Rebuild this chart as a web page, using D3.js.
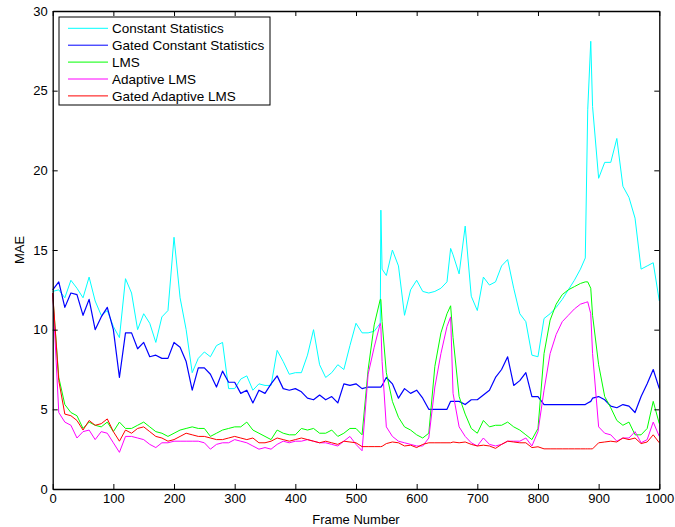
<!DOCTYPE html>
<html>
<head>
<meta charset="utf-8">
<script src="https://cdn.jsdelivr.net/npm/d3@7"></script>
<style>
    body { margin: 0; background: #fff; }
    #chart-area text { font-family: "Liberation Sans", Arial, Helvetica, sans-serif; }
</style>
</head>
<body>
<div id="chart-area"></div>
<script>

// frame numbers the values were read at (a few extra near the jumps)
var frames = [
    0, 10, 20, 30, 40, 50, 60, 70, 80, 90,
    100, 110, 120, 130, 140, 150, 160, 170, 180, 190,
    200, 210, 220, 230, 240, 250, 260, 270, 280, 290,
    300, 310, 320, 330, 340, 350, 360, 370, 380, 390,
    400, 410, 420, 430, 440, 450, 460, 470, 480, 490,
    500, 510, 520, 530, 540, 541, 543,
    550, 560, 570, 580, 590, 600, 610, 620, 630, 640, 650, 656,
    660, 670, 680, 690, 700, 710, 720, 730, 740, 750,
    760, 770, 780, 790, 800, 810, 820, 830, 840, 850, 860, 870,
    878, 882, 887,
    890, 900, 910, 920, 930, 940, 950, 960, 970, 980, 990, 1000
];

var constantStats = [
    12.4, 12.5, 12.0, 13.1, 12.6, 12.0, 13.3, 11.8, 10.9, 11.2,
    10.2, 9.5, 13.2, 12.3, 10.0, 11.0, 10.4, 9.2, 10.8, 11.2,
    15.8, 12.0, 10.0, 7.3, 8.2, 8.6, 8.3, 9.0, 9.2, 6.3,
    6.3, 6.9, 7.1, 6.2, 6.6, 6.5, 6.5, 8.7, 8.0, 7.2,
    7.3, 7.3, 8.4, 10.0, 7.8, 7.0, 7.3, 7.8, 7.5, 9.0,
    10.4, 9.8, 9.8, 9.9, 10.4, 17.5, 13.8,
    13.4, 15.0, 14.0, 10.9, 12.5, 13.1, 12.4, 12.3, 12.4, 12.6, 13.0, 15.1,
    14.7, 13.5, 16.5, 12.1, 11.2, 13.3, 12.8, 13.0, 14.0, 14.4,
    12.6, 11.0, 10.5, 8.4, 8.3, 10.7, 11.0, 11.4, 11.9, 12.5, 13.1, 13.8,
    14.5, 23.8, 28.1,
    24.0, 19.5, 20.5, 20.5, 22.0, 19.0, 18.3, 17.0, 13.8, 14.0, 14.2, 11.8
];

var gatedConstantStats = [
    12.5, 13.0, 11.4, 12.3, 12.2, 10.9, 11.9, 10.0, 10.8, 11.4,
    10.0, 7.0, 9.8, 9.8, 8.8, 9.2, 8.3, 8.4, 8.2, 8.2,
    9.2, 8.9, 8.0, 6.2, 7.6, 7.6, 7.2, 6.4, 7.4, 6.7,
    6.7, 6.0, 6.2, 5.4, 6.2, 6.0, 6.6, 7.1, 6.3, 6.2,
    6.3, 6.1, 5.7, 5.6, 5.9, 5.6, 5.8, 5.4, 6.6, 6.5,
    6.6, 6.3, 6.4, 6.4, 6.4, 6.4, 6.5,
    7.0, 6.6, 5.7, 6.3, 6.0, 6.2, 5.7, 5.0, 5.0, 5.0, 5.0, 5.5,
    5.5, 5.5, 5.3, 5.6, 5.6, 5.9, 6.2, 7.0, 7.5, 8.3,
    6.5, 6.8, 7.3, 5.8, 5.8, 5.3, 5.3, 5.3, 5.3, 5.3, 5.3, 5.3,
    5.3, 5.4, 5.5,
    5.7, 5.8, 5.6, 5.2, 5.1, 5.3, 5.2, 4.8, 5.8, 6.6, 7.5, 6.3
];

var lms = [
    12.2, 7.0, 5.3, 4.8, 4.6, 3.8, 4.2, 4.0, 3.9, 4.2,
    3.6, 4.2, 3.8, 3.8, 4.0, 4.2, 3.9, 3.6, 3.5, 3.3,
    3.5, 3.7, 3.8, 3.9, 3.8, 3.8, 3.3, 3.5, 3.7, 3.8,
    3.9, 3.9, 4.2, 3.7, 3.5, 3.3, 3.1, 3.7, 3.5, 3.4,
    3.4, 3.8, 3.7, 3.8, 3.5, 3.5, 3.7, 3.3, 3.5, 3.8,
    3.8, 3.4, 7.5, 10.3, 11.9, 11.9, 10.5,
    7.3, 5.5, 4.5, 3.9, 3.7, 3.4, 3.2, 3.5, 7.7, 9.8, 11.0, 11.5,
    9.5, 5.8, 4.7, 3.8, 3.5, 4.3, 3.9, 4.0, 4.0, 4.2,
    3.9, 3.7, 3.4, 3.1, 3.8, 8.5, 10.6, 11.6, 12.2, 12.5, 12.7, 12.9,
    13.0, 13.0, 12.6,
    10.9, 7.8, 5.8, 5.1, 4.3, 4.0, 4.2, 3.4, 3.4, 3.8, 5.5, 4.1
];

var adaptiveLms = [
    12.3, 4.8, 4.2, 4.0, 3.2, 3.6, 3.7, 3.1, 3.6, 3.5,
    2.9, 2.3, 3.3, 3.3, 3.2, 3.1, 2.8, 2.6, 2.9, 2.9,
    3.0, 3.0, 3.0, 3.0, 3.0, 2.9, 2.5, 2.8, 2.9, 2.9,
    3.1, 3.0, 2.9, 2.7, 2.5, 2.6, 2.5, 2.8, 3.0, 2.9,
    3.0, 3.0, 3.1, 3.0, 2.9, 2.9, 2.8, 2.7, 3.0, 3.3,
    2.8, 2.4, 7.2, 8.9, 10.4, 10.2, 8.0,
    3.9, 3.3, 3.0, 2.9, 2.8, 2.7, 2.7, 3.2, 6.4, 8.5, 10.2, 10.8,
    6.0, 3.9, 3.3, 2.9, 2.7, 3.2, 2.8, 2.7, 2.8, 3.0,
    3.0, 3.0, 3.2, 2.7, 3.6, 6.2, 8.5, 9.7, 10.5, 10.9, 11.3, 11.6,
    11.7, 11.75, 11.0,
    8.5, 3.9, 3.5, 3.4, 3.0, 3.2, 3.2, 3.6, 2.9, 3.1, 4.2, 3.3
];

var gatedAdaptiveLms = [
    12.3, 6.8, 4.7, 4.6, 4.3, 3.7, 4.3, 4.0, 4.1, 4.4,
    3.6, 3.0, 3.7, 3.5, 3.8, 3.9, 3.6, 3.3, 3.2, 3.0,
    3.1, 3.3, 3.5, 3.4, 3.3, 3.3, 3.2, 3.1, 3.1, 3.2,
    3.3, 3.2, 3.1, 3.2, 2.9, 2.9, 3.0, 3.2, 3.1, 3.0,
    3.1, 3.2, 3.1, 3.0, 2.9, 3.0, 2.9, 2.8, 3.0, 2.95,
    2.9, 2.66, 2.66, 2.66, 2.66, 2.66, 2.68,
    2.85, 2.95, 2.9, 2.7, 2.75, 2.6, 2.8, 2.9, 2.9, 2.9, 2.9, 2.9,
    2.95, 2.9, 2.95, 2.8, 2.7, 2.75, 2.7, 2.55, 2.8, 3.0,
    2.95, 2.9, 2.9, 2.6, 2.65, 2.52, 2.52, 2.52, 2.52, 2.52, 2.52, 2.52,
    2.52, 2.52, 2.52,
    2.52, 2.9, 2.95, 3.0, 2.95, 3.2, 3.1, 3.2, 2.85, 2.95, 3.4, 2.9
];

var seriesNames = ["Constant Statistics", "Gated Constant Statistics", "LMS", "Adaptive LMS", "Gated Adaptive LMS"];
var seriesColors = ["#00ffff", "#0000ff", "#00ff00", "#ff00ff", "#ff0000"];
var seriesValues = [constantStats, gatedConstantStats, lms, adaptiveLms, gatedAdaptiveLms];

var xTicks = [0, 100, 200, 300, 400, 500, 600, 700, 800, 900, 1000];
var yTicks = [0, 5, 10, 15, 20, 25, 30];


/*
 *  MaeChart - draws the MAE per frame for every method
 */

MaeChart = function(_parentElement, _series) {
    this.parentElement = _parentElement;
    this.series = _series;

    this.initVis();
}

MaeChart.prototype.initVis = function() {
    var vis = this;

    vis.margin = { top: 11, right: 15.7, bottom: 38, left: 52.7 };
    vis.width = 675 - vis.margin.left - vis.margin.right;
    vis.height = 527 - vis.margin.top - vis.margin.bottom;

    vis.svgRoot = d3.select("#" + vis.parentElement).append("svg")
        .attr("width", 675)
        .attr("height", 527);

    vis.svg = vis.svgRoot.append("g")
        .attr("transform", "translate(" + vis.margin.left + "," + vis.margin.top + ")");

    vis.x = d3.scaleLinear().domain([0, 1000]).range([0, vis.width]);
    vis.y = d3.scaleLinear().domain([0, 30]).range([vis.height, 0]);

    vis.updateVis();
}

MaeChart.prototype.updateVis = function() {
    var vis = this;

    var line = d3.line()
        .x(function(d, i) { return vis.x(frames[i]); })
        .y(function(d) { return vis.y(d); });

    vis.svg.selectAll(".mae-line")
        .data(vis.series)
        .enter().append("path")
        .attr("class", "mae-line")
        .attr("fill", "none")
        .attr("stroke", function(d) { return d.color; })
        .attr("stroke-width", function(d, i) { return i == 1 ? 1.2 : 1; })
        .attr("stroke-linejoin", "round")
        .attr("d", function(d) { return line(d.values); });

    // MATLAB style box with inward ticks
    var axes = [
        { axis: d3.axisBottom(vis.x).tickValues(xTicks), t: "translate(0," + vis.height + ")", labels: true },
        { axis: d3.axisTop(vis.x).tickValues(xTicks), t: "translate(0,0)", labels: false },
        { axis: d3.axisLeft(vis.y).tickValues(yTicks), t: "translate(0,0)", labels: true },
        { axis: d3.axisRight(vis.y).tickValues(yTicks), t: "translate(" + vis.width + ",0)", labels: false }
    ];

    axes.forEach(function(a) {
        a.axis.tickSizeInner(-5).tickSizeOuter(0).tickPadding(5);
        a.axis.tickFormat(a.labels ? d3.format("d") : "");
        var g = vis.svg.append("g")
            .attr("transform", a.t)
            .call(a.axis);
        g.select(".domain").attr("stroke", "#000").attr("stroke-width", 1.3);
        g.selectAll(".tick line").attr("stroke", "#000").attr("stroke-width", 1);
        g.selectAll(".tick text")
            .attr("fill", "#000")
            .attr("font-size", 13)
            .attr("font-family", "'Liberation Sans', Arial, Helvetica, sans-serif");
    });

    vis.svgRoot.append("text")
        .attr("x", vis.margin.left + vis.width / 2)
        .attr("y", 524)
        .attr("text-anchor", "middle")
        .attr("font-size", 13)
        .text("Frame Number");

    vis.svgRoot.append("text")
        .attr("transform", "translate(24," + (vis.margin.top + vis.height / 2) + ") rotate(-90)")
        .attr("text-anchor", "middle")
        .attr("font-size", 13)
        .text("MAE");

    // legend
    var legend = vis.svgRoot.append("g").attr("transform", "translate(59,17)");

    legend.append("rect")
        .attr("width", 211)
        .attr("height", 88)
        .attr("fill", "#fff")
        .attr("stroke", "#000")
        .attr("stroke-width", 1);

    var items = legend.selectAll(".legend-item")
        .data(vis.series)
        .enter().append("g")
        .attr("class", "legend-item")
        .attr("transform", function(d, i) { return "translate(0," + (11.3 + i * 16.9) + ")"; });

    items.append("line")
        .attr("x1", 9).attr("x2", 49)
        .attr("stroke", function(d) { return d.color; })
        .attr("stroke-width", 1);

    items.append("text")
        .attr("x", 53)
        .attr("dy", "0.35em")
        .attr("font-size", 13.5)
        .text(function(d) { return d.name; });
}

var series = seriesNames.map(function(name, i) {
    return { name: name, color: seriesColors[i], values: seriesValues[i] };
});

var maeChart = new MaeChart("chart-area", series);

</script>
</body>
</html>
